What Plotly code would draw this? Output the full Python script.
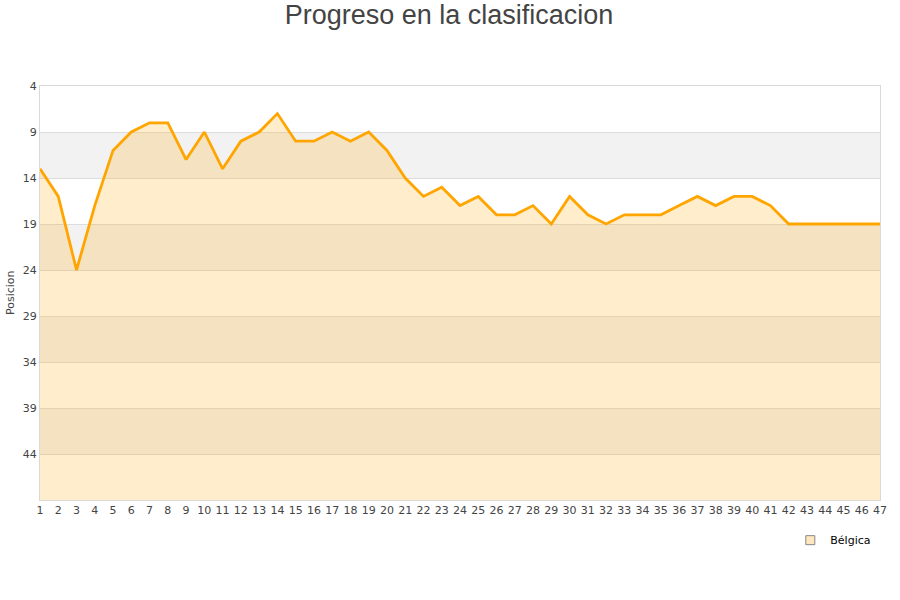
import plotly.graph_objects as go

jornadas = list(range(1, 48))
posicion = [13, 16, 24, 17, 11, 9, 8, 8, 12, 9,
            13, 10, 9, 7, 10, 10, 9, 10, 9, 11,
            14, 16, 15, 17, 16, 18, 18, 17, 19, 16,
            18, 19, 18, 18, 18, 17, 16, 17, 16, 16,
            17, 19, 19, 19, 19, 19, 19]
y_ticks = [4, 9, 14, 19, 24, 29, 34, 39, 44]
y_min, y_max = 4, 49
band_ranges = [(9, 14), (19, 24), (29, 34), (39, 44)]
baseline = [y_max] * len(jornadas)

fig = go.Figure()
fig.add_trace(go.Scatter(x=jornadas, y=baseline, mode="lines",
                         line=dict(width=0), showlegend=False, hoverinfo="skip"))
fig.add_trace(go.Scatter(x=jornadas, y=posicion, mode="lines", fill="tonexty",
                         fillcolor="rgba(255,165,0,0.2)",
                         line=dict(color="#FFA500", width=2.8),
                         name="Bélgica", showlegend=False))
fig.add_trace(go.Scatter(x=[None], y=[None], mode="markers", name="Bélgica",
                         marker=dict(symbol="square", size=9, color="#FFE7BF",
                                     line=dict(color="#888888", width=1))))

shapes = []
for a, b in band_ranges:
    shapes.append(dict(type="rect", xref="paper", x0=0, x1=1, yref="y", y0=a, y1=b,
                       fillcolor="#f2f2f2", line=dict(width=0), layer="below"))

fig.update_layout(
    width=900, height=600,
    paper_bgcolor="white", plot_bgcolor="white",
    margin=dict(l=40, r=20, t=86, b=100, autoexpand=False),
    title=dict(text="Progreso en la clasificacion", x=449 / 900, xanchor="center",
               yref="container", y=1 - 15 / 600, yanchor="middle",
               font=dict(family="Liberation Sans, Arial", size=27, color="#444444")),
    font=dict(family="DejaVu Sans", size=11, color="#444444"),
    shapes=shapes,
    annotations=[dict(text="Posicion", xref="paper", yref="paper", x=-0.0357, y=0.5,
                      xanchor="center", yanchor="middle", textangle=-90, showarrow=False,
                      font=dict(family="DejaVu Sans", size=11, color="#444444"))],
    showlegend=True,
    legend=dict(x=0.9956, xanchor="right", y=-0.097, yanchor="middle",
                bgcolor="rgba(0,0,0,0)", font=dict(family="DejaVu Sans", size=11, color="#000000")),
    xaxis=dict(range=[1, 47], tickmode="array", tickvals=jornadas,
               ticktext=[str(j) for j in jornadas], showgrid=False, zeroline=False,
               showline=True, linecolor="#d9d9d9", linewidth=1, mirror=True,
               ticks="", automargin=False, tickfont=dict(size=11, color="#444444")),
    yaxis=dict(range=[y_max, y_min], tickmode="array", tickvals=y_ticks,
               showgrid=True, gridcolor="#dddddd", gridwidth=1, zeroline=False,
               showline=True, linecolor="#d9d9d9", linewidth=1, mirror=True,
               ticks="", automargin=False, tickfont=dict(size=11, color="#444444")),
)

fig.write_html("out.html", config={"displayModeBar": False},
               post_script="document.body.style.margin='0';")
